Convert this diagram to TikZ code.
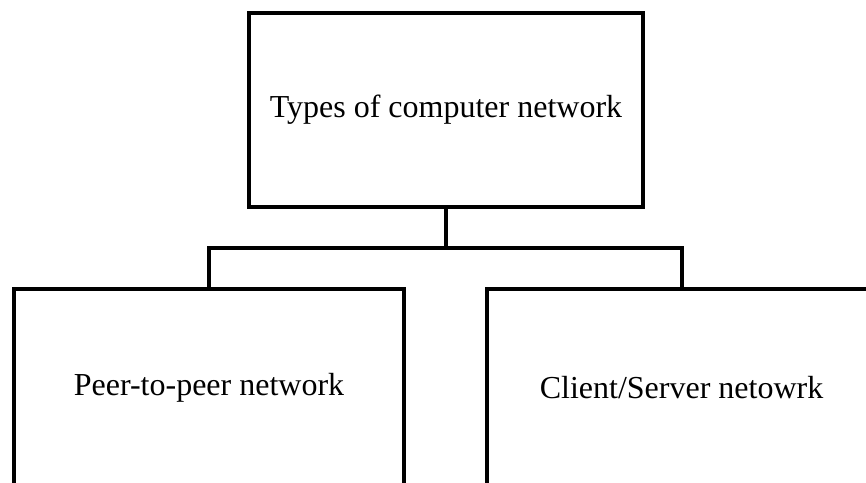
\documentclass[tikz,border=0pt]{standalone}
\usepackage{fontspec}
\setmainfont{Liberation Serif}
\begin{document}
\begin{tikzpicture}[x=1pt,y=-1pt,
  box/.style={draw=black,line width=4pt,rectangle,inner sep=0pt,
    font=\fontsize{32}{38}\selectfont,text=black},
  link/.style={draw=black,line width=4pt}]
  \useasboundingbox (0,0) rectangle (866,482);
  \clip (0,0) rectangle (866,482);
  % root of the hierarchy
  \node[box,minimum width=394pt,minimum height=194pt] (root) at (446,110)
    {Types of computer network};
  % the two kinds of network
  \node[box,minimum width=390pt,minimum height=197pt] (p2p) at (209,387.5)
    {Peer-to-peer network};
  \node[box,minimum width=390pt,minimum height=197pt] (cs) at (681.5,387.5)
    {Client/Server netowrk};
  % branching connector
  \coordinate (bus) at (446,248);
  \draw[link] (root.south) -- (bus);
  \draw[link] (p2p.north) |- (bus) -| (cs.north);
\end{tikzpicture}
\end{document}
